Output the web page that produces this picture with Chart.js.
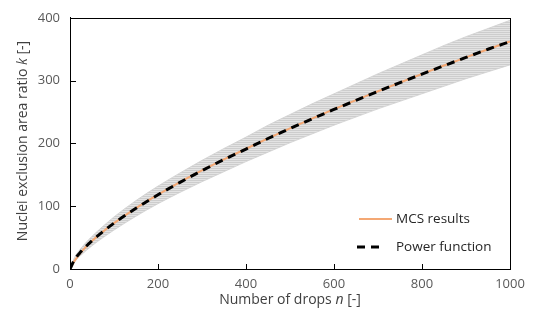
<!DOCTYPE html>
<html>
<head>
<meta charset="utf-8">
<script src="https://cdn.jsdelivr.net/npm/chart.js@4/dist/chart.umd.min.js"></script>
<style>
  html, body { margin: 0; padding: 0; background: #ffffff; }
  #wrap { width: 536px; height: 320px; }
</style>
</head>
<body>
<div id="wrap"><canvas id="c" width="536" height="320"></canvas></div>
<script>
// ---- data ----
const dropsN       = [0, 10, 25, 50, 75, 100, 150, 200, 250, 300, 350, 400, 450, 500, 550, 600, 650, 700, 750, 800, 850, 900, 950, 1000];
const powerFunc    = [0, 14.6, 27.7, 44.9, 59.6, 72.9, 96.6, 118.1, 138, 156.6, 174.4, 191, 207.8, 223.7, 239, 254, 268.5, 282.7, 296.7, 310.3, 323.7, 336.9, 349.9, 362];
const mcsResults   = [0, 12.5, 26.5, 44.5, 59.5, 73, 97, 118.5, 138.5, 157, 174.5, 191.5, 208, 224, 239.5, 254.5, 269, 283, 297, 310.5, 324, 337, 350, 362.5];
const bandUpper    = [0, 18, 33, 52, 68, 83, 109, 132, 153, 173, 192, 210, 229, 246, 263, 279, 295, 311, 326, 341, 356, 370, 383, 396];
const bandLower    = [0, 11, 22, 37, 50, 62, 84, 104, 122, 139, 155, 171, 186, 201, 215, 229, 242, 255, 267, 279, 291, 303, 314, 325];
const xTicks       = [0, 200, 400, 600, 800, 1000];
const yTicks       = [0, 100, 200, 300, 400];
const seriesLabels = ['MCS results', 'Power function'];

const pts = (ys) => dropsN.map((n, i) => ({ x: n, y: ys[i] }));
const xMin = xTicks[0], xMax = xTicks[xTicks.length - 1];
const yMin = yTicks[0], yMax = yTicks[yTicks.length - 1];

// striped fill for the band of individual MCS runs
function stripePattern() {
  const p = document.createElement('canvas');
  p.width = 8; p.height = 2;
  const g = p.getContext('2d');
  g.fillStyle = '#e3e3e3'; g.fillRect(0, 0, 8, 2);
  g.fillStyle = '#cdcdcd'; g.fillRect(0, 0, 8, 1);
  return document.getElementById('c').getContext('2d').createPattern(p, 'repeat');
}

const FONT = '"Open Sans", "Liberation Sans", sans-serif';
const ORANGE = '#F4A874';
const FRAME = '#000000';

const overlayPlugin = {
  id: 'overlay',
  afterDraw(chart) {
    const ctx = chart.ctx;
    const sx = chart.scales.x, sy = chart.scales.y;
    ctx.save();
    ctx.setLineDash([]);

    // plot frame and inward tick marks
    ctx.fillStyle = FRAME;
    const L = Math.round(sx.getPixelForValue(xMin));
    const R = Math.round(sx.getPixelForValue(xMax));
    const T = Math.round(sy.getPixelForValue(yMax));
    const B = Math.round(sy.getPixelForValue(yMin));
    ctx.fillRect(L, T, R - L + 1, 1);
    ctx.fillRect(L, B, R - L + 1, 1);
    ctx.fillRect(L, T, 1, B - T + 1);
    ctx.fillRect(R, T, 1, B - T + 1);
    xTicks.forEach(v => { ctx.fillRect(Math.round(sx.getPixelForValue(v)), B - 5, 1, 5); });
    yTicks.forEach(v => { ctx.fillRect(L, Math.round(sy.getPixelForValue(v)), 6, 1); });

    // legend
    ctx.font = '13.5px ' + FONT;
    ctx.fillStyle = '#262626';
    ctx.textBaseline = 'middle';
    ctx.textAlign = 'left';
    ctx.strokeStyle = ORANGE; ctx.lineWidth = 2;
    ctx.beginPath(); ctx.moveTo(359, 219); ctx.lineTo(392, 219); ctx.stroke();
    ctx.fillText(seriesLabels[0], 396, 219);
    ctx.strokeStyle = '#000000'; ctx.lineWidth = 3; ctx.setLineDash([8, 6]);
    ctx.beginPath(); ctx.moveTo(357, 247); ctx.lineTo(385, 247); ctx.stroke();
    ctx.setLineDash([]);
    ctx.fillText(seriesLabels[1], 396, 247);

    // axis titles with italic symbols
    ctx.fillStyle = '#404040';
    ctx.textBaseline = 'alphabetic';
    const drawMixed = (parts, cx, cy) => {
      let total = 0;
      parts.forEach(p => { ctx.font = (p[1] ? 'italic ' : '') + '14px ' + FONT; total += ctx.measureText(p[0]).width; });
      let x = cx - total / 2;
      parts.forEach(p => { ctx.font = (p[1] ? 'italic ' : '') + '14px ' + FONT; ctx.fillText(p[0], x, cy); x += ctx.measureText(p[0]).width; });
    };
    drawMixed([['Number of drops ', false], ['n', true], [' [-]', false]], 290, 304);
    ctx.save();
    ctx.translate(27, 141);
    ctx.rotate(-Math.PI / 2);
    drawMixed([['Nuclei exclusion area ratio ', false], ['k', true], [' [-]', false]], 0, 0);
    ctx.restore();
    ctx.restore();
  }
};

new Chart(document.getElementById('c'), {
  type: 'line',
  data: {
    datasets: [
      { label: 'upper', order: 4, data: pts(bandUpper), borderColor: '#d0d0d0', borderWidth: 0.8, pointRadius: 0, fill: '+1', backgroundColor: stripePattern(), cubicInterpolationMode: 'monotone' },
      { label: 'lower', order: 3, data: pts(bandLower), borderColor: '#d0d0d0', borderWidth: 0.8, pointRadius: 0, fill: false, cubicInterpolationMode: 'monotone' },
      { label: seriesLabels[0], order: 2, data: pts(mcsResults), borderColor: ORANGE, borderWidth: 2, pointRadius: 0, fill: false, cubicInterpolationMode: 'monotone' },
      { label: seriesLabels[1], order: 1, data: pts(powerFunc), borderColor: '#000000', borderWidth: 3, borderDash: [8, 6], pointRadius: 0, fill: false, cubicInterpolationMode: 'monotone' }
    ]
  },
  options: {
    responsive: false,
    animation: false,
    devicePixelRatio: 1,
    layout: { padding: { left: 0, right: 26, top: 10, bottom: 0 } },
    plugins: { legend: { display: false }, tooltip: { enabled: false } },
    scales: {
      x: {
        type: 'linear', min: xMin, max: xMax,
        afterBuildTicks: (s) => { s.ticks = xTicks.map(v => ({ value: v })); },
        afterFit: (s) => { s.height = 51; },
        grid: { display: false, drawTicks: false },
        border: { display: true, color: FRAME, width: 1 },
        ticks: { color: '#595959', font: { family: FONT, size: 13 }, padding: 7, maxRotation: 0, callback: (v) => String(v) }
      },
      y: {
        type: 'linear', min: yMin, max: yMax,
        afterBuildTicks: (s) => { s.ticks = yTicks.map(v => ({ value: v })); },
        afterFit: (s) => { s.width = 70; },
        grid: { display: false, drawTicks: false },
        border: { display: true, color: FRAME, width: 1 },
        ticks: { color: '#595959', font: { family: FONT, size: 13 }, padding: 10, callback: (v) => String(v) }
      }
    }
  },
  plugins: [overlayPlugin]
});
</script>
</body>
</html>
